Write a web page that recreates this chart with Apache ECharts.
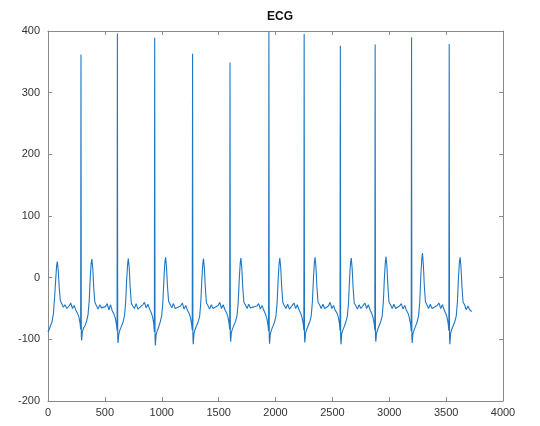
<!DOCTYPE html>
<html>
<head>
<meta charset="utf-8">
<title>ECG</title>
<script src="https://cdn.jsdelivr.net/npm/echarts@6/dist/echarts.min.js"></script>
<style>
  html, body { margin: 0; padding: 0; background: #fff; }
  #chart { width: 540px; height: 426px; }
</style>
</head>
<body>
<div id="chart"></div>
<script>
var ecgX = [
  0, 10, 22, 35, 48, 58, 68, 76, 82, 90, 98, 108, 120, 135, 150, 165,
  185, 200, 215, 230, 245, 260, 272, 282, 287, 290, 293, 296, 302, 312, 325, 340, 352, 362, 372, 380, 386, 394, 402, 412, 425, 440, 455, 470,
  505, 520, 535, 550, 565, 580, 592, 602, 607, 610, 613, 616, 622, 632, 645, 660, 672, 682, 692, 700, 706, 714, 722, 732, 745, 760, 775, 790,
  833, 848, 863, 878, 893, 908, 920, 930, 935, 938, 941, 944, 950, 960, 973, 988, 1000, 1010, 1020, 1028, 1034, 1042, 1050, 1060, 1073, 1088, 1103, 1118,
  1166, 1181, 1196, 1211, 1226, 1241, 1253, 1263, 1268, 1271, 1274, 1277, 1283, 1293, 1306, 1321, 1333, 1343, 1353, 1361, 1367, 1375, 1383, 1393, 1406, 1421, 1436, 1451,
  1495, 1510, 1525, 1540, 1555, 1570, 1582, 1592, 1597, 1600, 1603, 1606, 1612, 1622, 1635, 1650, 1662, 1672, 1682, 1690, 1696, 1704, 1712, 1722, 1735, 1750, 1765, 1780,
  1837, 1852, 1867, 1882, 1897, 1912, 1924, 1934, 1939, 1942, 1945, 1948, 1954, 1964, 1977, 1992, 2004, 2014, 2024, 2032, 2038, 2046, 2054, 2064, 2077, 2092, 2107, 2122,
  2147, 2162, 2177, 2192, 2207, 2222, 2234, 2244, 2249, 2252, 2255, 2258, 2264, 2274, 2287, 2302, 2314, 2324, 2334, 2342, 2348, 2356, 2364, 2374, 2387, 2402, 2417, 2432,
  2465, 2480, 2495, 2510, 2525, 2540, 2552, 2562, 2567, 2570, 2573, 2576, 2582, 2592, 2605, 2620, 2632, 2642, 2652, 2660, 2666, 2674, 2682, 2692, 2705, 2720, 2735, 2750,
  2771, 2786, 2801, 2816, 2831, 2846, 2858, 2868, 2873, 2876, 2879, 2882, 2888, 2898, 2911, 2926, 2938, 2948, 2958, 2966, 2972, 2980, 2988, 2998, 3011, 3026, 3041, 3056,
  3091, 3106, 3121, 3136, 3151, 3166, 3178, 3188, 3193, 3196, 3199, 3202, 3208, 3218, 3231, 3246, 3258, 3268, 3278, 3286, 3292, 3300, 3308, 3318, 3331, 3346, 3361, 3376,
  3422, 3437, 3452, 3467, 3482, 3497, 3509, 3519, 3524, 3527, 3530, 3533, 3539, 3549, 3562, 3577, 3589, 3599, 3609, 3617, 3623, 3631, 3639, 3649, 3662, 3677, 3692, 3707,
  3725
];
var ecgY = [
  -88, -84, -78, -72, -58, -32, -2, 20, 26, 12, -14, -37, -42, -48, -44, -50,
  -46, -41, -50, -45, -53, -58, -64, -74, -84, 362, -94, -102, -88, -82, -78, -70, -60, -38, 2, 24, 30, 14, -16, -40, -45, -51, -44, -49,
  -47, -42, -52, -44, -54, -59, -66, -76, -86, 396, -97, -106, -92, -85, -79, -72, -62, -42, -2, 22, 31, 16, -14, -41, -46, -50, -42, -51,
  -44, -40, -49, -43, -51, -57, -64, -75, -88, 389, -98, -110, -93, -86, -80, -71, -61, -39, 1, 26, 33, 17, -13, -38, -43, -49, -42, -50,
  -46, -41, -51, -45, -53, -58, -65, -76, -85, 363, -96, -108, -91, -84, -78, -71, -63, -41, -1, 23, 31, 15, -16, -41, -45, -51, -44, -50,
  -45, -40, -50, -44, -52, -57, -64, -74, -84, 349, -95, -104, -89, -83, -77, -70, -61, -40, 0, 24, 32, 15, -15, -40, -44, -50, -43, -49,
  -46, -42, -51, -45, -53, -59, -66, -77, -87, 399, -97, -107, -92, -85, -79, -72, -62, -41, -1, 24, 32, 16, -14, -40, -45, -50, -43, -51,
  -45, -41, -50, -44, -52, -58, -65, -75, -85, 395, -96, -105, -90, -84, -78, -71, -62, -40, 0, 25, 33, 16, -15, -40, -44, -50, -43, -50,
  -46, -40, -50, -45, -53, -57, -64, -74, -86, 376, -98, -108, -91, -85, -79, -71, -62, -41, 1, 25, 32, 15, -15, -41, -45, -51, -44, -50,
  -45, -41, -50, -44, -52, -58, -65, -75, -85, 378, -96, -104, -90, -84, -78, -71, -62, -40, 2, 26, 34, 17, -14, -40, -44, -50, -43, -50,
  -46, -42, -51, -45, -53, -58, -66, -76, -87, 390, -97, -106, -91, -85, -79, -71, -62, -40, 4, 30, 40, 20, -12, -39, -44, -50, -43, -50,
  -45, -41, -50, -44, -52, -58, -65, -76, -86, 379, -97, -108, -91, -84, -78, -71, -62, -40, 2, 26, 33, 16, -14, -40, -44, -52, -46, -52,
  -55
];
var xTicks = { min: 0, max: 4000, step: 500 };
var yTicks = { min: -200, max: 400, step: 100 };

var points = ecgX.map(function (x, i) { return [x, ecgY[i]]; });

var myChart = echarts.init(document.getElementById('chart'));
var axisColor = '#8a8a8a';
var labelStyle = {
  color: '#333', fontFamily: 'Liberation Sans', fontSize: 11,
  formatter: function (v) { return String(v); }
};

// box around the plot: bottom/left carry labels, top/right only ticks
var option = {
  animation: false,
  backgroundColor: '#fff',
  title: {
    text: 'ECG',
    left: 262,
    top: 6,
    textStyle: { fontFamily: 'Liberation Sans', fontSize: 12, fontWeight: 'bold', color: '#111' }
  },
  grid: { left: 48, right: 37, top: 31, bottom: 25 },
  xAxis: [
    {
      type: 'value', position: 'bottom',
      min: xTicks.min, max: xTicks.max, interval: xTicks.step,
      axisLine: { onZero: false, lineStyle: { color: axisColor } },
      axisTick: { inside: true, length: 4, lineStyle: { color: axisColor } },
      axisLabel: Object.assign({ margin: 6 }, labelStyle),
      splitLine: { show: false }
    },
    {
      type: 'value', position: 'top',
      min: xTicks.min, max: xTicks.max, interval: xTicks.step,
      axisLine: { onZero: false, lineStyle: { color: axisColor } },
      axisTick: { inside: true, length: 4, lineStyle: { color: axisColor } },
      axisLabel: { show: false },
      splitLine: { show: false }
    }
  ],
  yAxis: [
    {
      type: 'value', position: 'left',
      min: yTicks.min, max: yTicks.max, interval: yTicks.step,
      axisLine: { show: true, onZero: false, lineStyle: { color: axisColor } },
      axisTick: { show: true, inside: true, length: 4, lineStyle: { color: axisColor } },
      axisLabel: Object.assign({ margin: 8 }, labelStyle),
      splitLine: { show: false }
    },
    {
      type: 'value', position: 'right',
      min: yTicks.min, max: yTicks.max, interval: yTicks.step,
      axisLine: { show: true, onZero: false, lineStyle: { color: axisColor } },
      axisTick: { show: true, inside: true, length: 4, lineStyle: { color: axisColor } },
      axisLabel: { show: false },
      splitLine: { show: false }
    }
  ],
  series: [
    {
      type: 'line',
      data: points,
      xAxisIndex: 0,
      yAxisIndex: 0,
      showSymbol: false,
      lineStyle: { color: '#1f77c4', width: 1.1 }
    }
  ]
};
myChart.setOption(option);
</script>
</body>
</html>
